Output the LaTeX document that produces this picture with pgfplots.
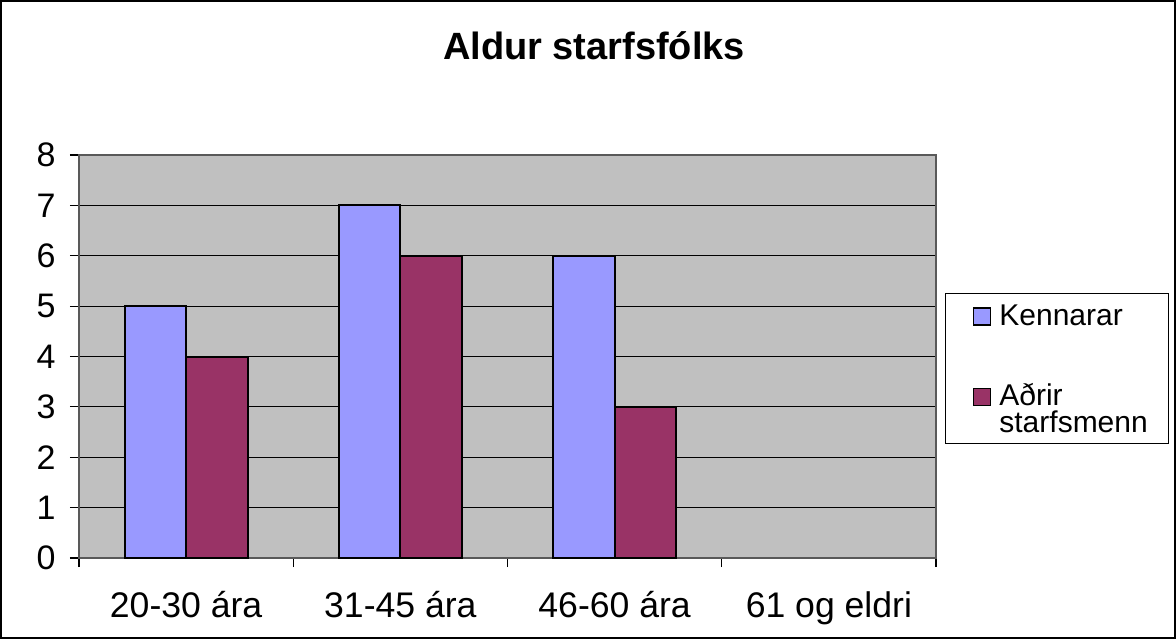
\documentclass[border=0pt]{standalone}
\usepackage{pgfplots}
\pgfplotsset{compat=1.18}
\usepackage{fontspec}
\setmainfont{Liberation Sans}
\definecolor{bgray}{HTML}{C0C0C0}
\definecolor{kenn}{HTML}{9999FF}
\definecolor{adrir}{HTML}{993366}
\begin{document}
\begin{tikzpicture}
\path[use as bounding box] (0,0) rectangle (588pt,319.5pt);
\draw[black, line width=1.2pt] (0.6pt,0.6pt) rectangle (587.4pt,318.9pt);
\node[anchor=base, font=\fontsize{19}{22}\selectfont\bfseries, inner sep=0pt] at (297pt,290pt) {Aldur starfsfólks};
\begin{axis}[
  at={(39.5pt,40.5pt)}, anchor=south west,
  scale only axis, width=428.5pt, height=201.5pt,
  xmin=-0.5, xmax=3.5, ymin=0, ymax=8,
  ybar=0pt, bar width=0.287,
  axis background/.style={fill=bgray},
  axis line style={draw=gray!70!black, line width=0.8pt},
  ymajorgrids, grid style={black, line width=0.5pt},
  ytick={0,...,8},
  xtick={0,1,2,3},
  xticklabels={20-30 ára,31-45 ára,46-60 ára,61 og eldri},
  minor xtick={-0.5,0.5,1.5,2.5,3.5},
  tick align=outside, major tick length=4.5pt, minor tick length=4.5pt,
  xtick pos=bottom, ytick pos=left,
  major x tick style={draw=none},
  minor x tick style={black, line width=0.6pt},
  y tick style={black, line width=0.6pt},
  /pgf/number format/assume math mode=true,
  yticklabel style={font=\fontsize{17}{20}\selectfont, inner sep=0pt, xshift=-7pt},
  xticklabel style={font=\fontsize{17.8}{20}\selectfont, inner sep=0pt, yshift=-12pt},
  legend style={at={(1.0105,0.6576)}, anchor=north west, draw=black, line width=0.6pt, fill=white,
    inner xsep=8.5pt, inner ysep=3.5pt, row sep=25pt, column sep=2pt,
    font=\fontsize{15}{13.5}\selectfont,
    cells={anchor=base west, align=left, inner sep=0pt}},
  legend image code/.code={\path (0pt,0pt); \draw[#1, draw=black, line width=0.8pt] (5pt,0pt) rectangle (13.5pt,8.5pt);},
]
\addplot[fill=kenn, draw=black, line width=1pt] coordinates {(0,5) (1,7) (2,6)};
\addlegendentry[text depth=0pt]{Kennarar}
\addplot[fill=adrir, draw=black, line width=1pt,
  legend image code/.code={\path (0pt,0pt); \draw[fill=adrir, draw=black, line width=0.8pt] (5pt,13.5pt) rectangle (13.5pt,22pt);}]
  coordinates {(0,4) (1,6) (2,3)};
\addlegendentry[text depth=0pt]{Aðrir\\starfsmenn}
\end{axis}
\end{tikzpicture}
\end{document}
